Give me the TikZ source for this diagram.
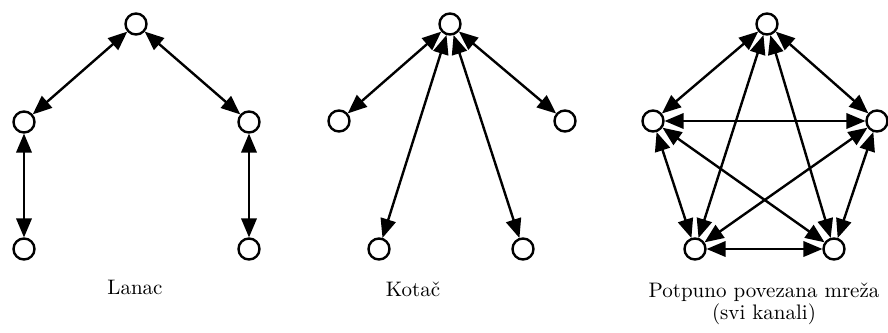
\documentclass[tikz,border=0pt]{standalone}
\usetikzlibrary{arrows}
\tikzset{
    station/.style = {draw, circle, line width=1.2pt,
        minimum size=10.5pt, inner sep=0pt},
    link/.style = {<->, line width=1.2pt},
    caption/.style = {align=center, font=\fontsize{10.5}{11}\selectfont},
}

\begin{document}
\begin{tikzpicture}[x=0.5pt, y=-0.5pt, >=triangle 45]
		\useasboundingbox (0,0) rectangle (888,332);

		% Lanac
		\node [station] (chainTop) at (136,24) {};
		\node [station] (chainL) at (24,122) {};
		\node [station] (chainR) at (249,122) {};
		\node [station] (chainLB) at (24,249) {};
		\node [station] (chainRB) at (249,249) {};
		\node [caption] (chainLabel) at (135,287) {Lanac};

		% Kotac
		\node [station] (wheelTop) at (450,24) {};
		\node [station] (wheelL) at (339,121) {};
		\node [station] (wheelR) at (565,121) {};
		\node [station] (wheelLB) at (379,249) {};
		\node [station] (wheelRB) at (523,249) {};
		\node [caption] (wheelLabel) at (413,289) {Kotač};

		% Potpuno povezana mreza
		\node [station] (netTop) at (767,24) {};
		\node [station] (netL) at (653,121) {};
		\node [station] (netR) at (877,121) {};
		\node [station] (netLB) at (695,249) {};
		\node [station] (netRB) at (834,249) {};
		\node [caption] (netLabel) at (764,304) {Potpuno povezana mreža\\(svi kanali)};

		%% connecting lines
		\draw [link] (chainTop) -- (chainL);
		\draw [link] (chainTop) -- (chainR);
		\draw [link] (chainL) -- (chainLB);
		\draw [link] (chainR) -- (chainRB);

		\draw [link] (wheelTop) -- (wheelL);
		\draw [link] (wheelTop) -- (wheelR);
		\draw [link] (wheelTop) -- (wheelLB);
		\draw [link] (wheelTop) -- (wheelRB);

		\draw [link] (netTop) -- (netL);
		\draw [link] (netTop) -- (netR);
		\draw [link] (netTop) -- (netLB);
		\draw [link] (netTop) -- (netRB);
		\draw [link] (netL) -- (netR);
		\draw [link] (netL) -- (netLB);
		\draw [link] (netL) -- (netRB);
		\draw [link] (netR) -- (netLB);
		\draw [link] (netR) -- (netRB);
		\draw [link] (netLB) -- (netRB);

	\end{tikzpicture}
\end{document}
